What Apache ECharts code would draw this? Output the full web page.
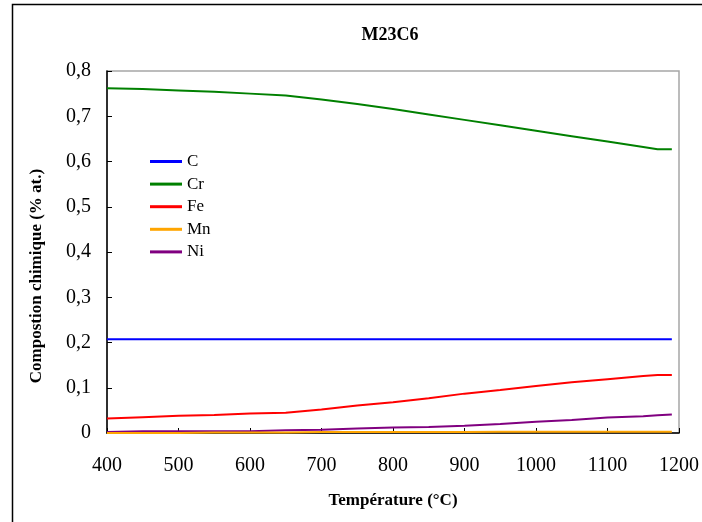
<!DOCTYPE html>
<html>
<head>
<meta charset="utf-8">
<script src="https://cdn.jsdelivr.net/npm/echarts@6/dist/echarts.min.js"></script>
<style>
html,body{margin:0;padding:0;background:#fff;}
#chart{width:702px;height:522px;}
</style>
</head>
<body>
<div id="chart"></div>
<script>
var temps = [400,450,500,550,600,650,700,750,800,850,900,950,1000,1050,1100,1150,1170,1190];
var C  = [0.207,0.207,0.207,0.207,0.207,0.207,0.207,0.207,0.207,0.207,0.207,0.207,0.207,0.207,0.207,0.207,0.207,0.207];
var Cr = [0.762,0.760,0.757,0.754,0.750,0.746,0.737,0.727,0.716,0.704,0.692,0.680,0.668,0.656,0.644,0.632,0.627,0.627];
var Fe = [0.032,0.035,0.038,0.040,0.043,0.045,0.052,0.061,0.068,0.077,0.087,0.095,0.104,0.112,0.119,0.126,0.128,0.128];
var Mn = [0.000,0.000,0.000,0.001,0.001,0.001,0.002,0.002,0.002,0.002,0.002,0.003,0.003,0.003,0.003,0.003,0.003,0.003];
var Ni = [0.002,0.004,0.004,0.004,0.004,0.006,0.007,0.010,0.012,0.013,0.016,0.020,0.025,0.029,0.034,0.037,0.039,0.041];
var names = ['C','Cr','Fe','Mn','Ni'];
var colors = ['#0000ff','#008000','#ff0000','#ffa500','#800080'];
var values = [C, Cr, Fe, Mn, Ni];
var titleText = 'M23C6';
var xName = 'Température (°C)';
var yName = 'Compostion chimique (% at.)';

function pairs(arr){ return temps.map(function(t,i){ return [t, arr[i]]; }); }
var font = 'Liberation Serif, Times New Roman, serif';

var chart = echarts.init(document.getElementById('chart'));
chart.setOption({
  animation:false,
  backgroundColor:'#fff',
  title:{
    text:titleText, left:385, top:21, textAlign:'center',
    textStyle:{fontFamily:font, fontSize:18, fontWeight:'bold', color:'#000'}
  },
  graphic:[{
    type:'rect', shape:{x:12.5, y:4.5, width:720, height:540},
    style:{fill:'none', stroke:'#000', lineWidth:1.5}, silent:true
  },{
    type:'text', x:37, y:276, rotation:Math.PI/2,
    style:{text:yName, fontFamily:font, fontSize:17, fontWeight:'bold', fill:'#000', align:'center', verticalAlign:'middle'},
    silent:true
  }],
  legend:{
    orient:'vertical', left:145, top:148,
    itemWidth:32, itemHeight:3, itemGap:5.6, icon:'rect',
    data:names,
    textStyle:{fontFamily:font, fontSize:17, color:'#000', lineHeight:17}
  },
  grid:{left:107, right:19.5, top:71, bottom:89, show:true, borderColor:'#a6a6a6', borderWidth:1.5, backgroundColor:'transparent'},
  xAxis:{
    type:'value', min:400, max:1200, interval:100,
    name:xName, nameLocation:'middle', nameGap:59,
    nameTextStyle:{fontFamily:font, fontSize:17, fontWeight:'bold', color:'#000'},
    axisLine:{lineStyle:{color:'#000', width:1.5}},
    axisTick:{inside:true, length:5, lineStyle:{color:'#000'}},
    axisLabel:{fontFamily:font, fontSize:20, color:'#000', margin:23,
      formatter:function(v){ return String(v); }},
    splitLine:{show:false}
  },
  yAxis:{
    type:'value', min:0, max:0.8, interval:0.1,
    axisLine:{show:true, lineStyle:{color:'#000', width:1.5}},
    axisTick:{show:true, inside:true, length:5, lineStyle:{color:'#000'}},
    axisLabel:{fontFamily:font, fontSize:20, color:'#000', margin:16,
      formatter:function(v){ return v===0 ? '0' : v.toFixed(1).replace('.',','); }},
    splitLine:{show:false}
  },
  series: names.map(function(n,i){
    return {
      name:n, type:'line', data:pairs(values[i]), showSymbol:false, symbol:'none',
      lineStyle:{color:colors[i], width:2}, itemStyle:{color:colors[i]}, z: 10 - i
    };
  })
});
</script>
</body>
</html>
